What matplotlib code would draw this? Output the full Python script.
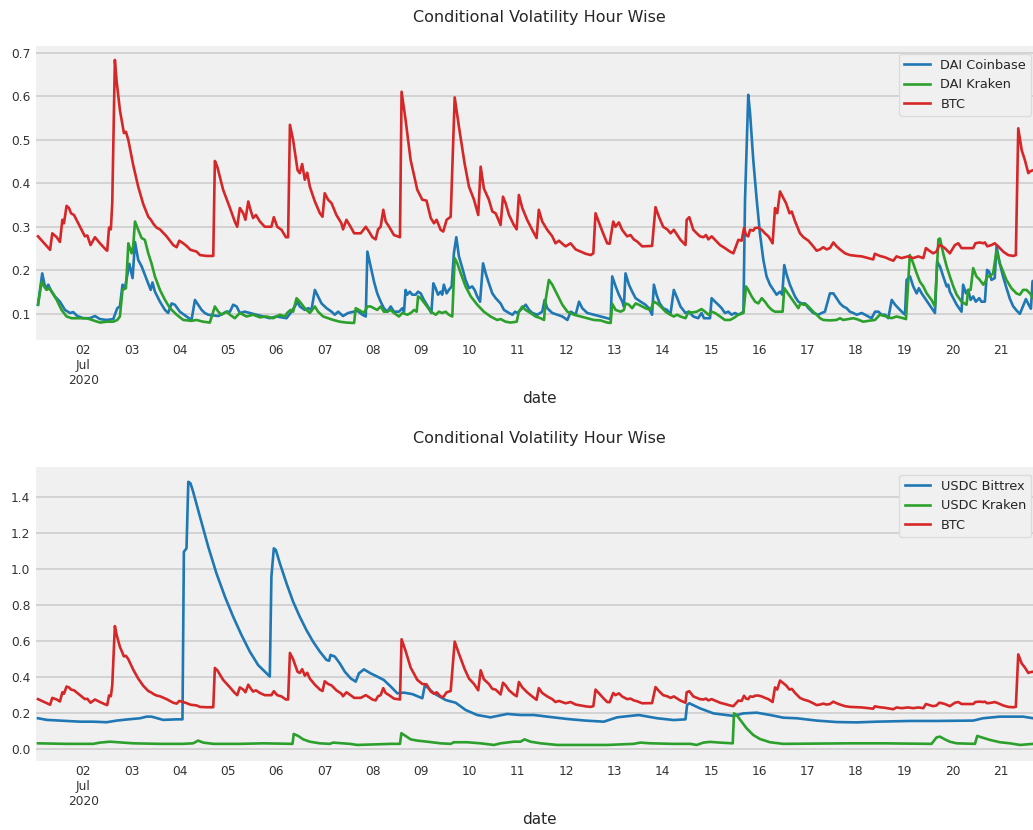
import pandas as pd
import matplotlib
matplotlib.use('Agg')
import matplotlib.pyplot as plt

# hourly conditional volatility, (hours since 2020-07-01 00:00, value)
btc_points = [
    (1.5, 0.278), (7.5, 0.247), (8.6, 0.285), (10.8, 0.276), (12.4, 0.265), (13.6, 0.316),
    (14.4, 0.308), (15.7, 0.348), (16.9, 0.343), (17.9, 0.331), (19.4, 0.327), (22.4, 0.300),
    (24.8, 0.278), (26.0, 0.280), (27.6, 0.258), (29.8, 0.276), (32.3, 0.262), (35.3, 0.247),
    (35.9, 0.245), (36.8, 0.298), (37.7, 0.294), (38.4, 0.354), (39.7, 0.683), (40.6, 0.633),
    (42.2, 0.568), (44.2, 0.515), (45.2, 0.518), (46.4, 0.499), (48.8, 0.442), (51.3, 0.392),
    (53.8, 0.352), (56.3, 0.323), (57.6, 0.316), (58.8, 0.307), (60.4, 0.298), (62.1, 0.294),
    (65.4, 0.278), (68.7, 0.258), (70.4, 0.253), (71.7, 0.268), (73.7, 0.262), (75.3, 0.256),
    (77.3, 0.247), (80.3, 0.243), (82.0, 0.235), (85.3, 0.233), (88.6, 0.233), (89.4, 0.451),
    (90.6, 0.438), (93.5, 0.385), (96.9, 0.343), (99.3, 0.312), (100.5, 0.300), (101.8, 0.343),
    (103.5, 0.331), (104.6, 0.316), (106.0, 0.358), (107.1, 0.339), (108.4, 0.320), (109.8, 0.327),
    (111.8, 0.312), (114.2, 0.300), (117.5, 0.300), (118.7, 0.322), (120.4, 0.300), (122.5, 0.293),
    (124.7, 0.276), (125.8, 0.276), (126.7, 0.534), (128.3, 0.499), (130.5, 0.430), (131.6, 0.423),
    (132.8, 0.444), (134.1, 0.408), (135.3, 0.424), (136.6, 0.392), (139.1, 0.358), (141.6, 0.331),
    (142.9, 0.323), (144.0, 0.377), (145.7, 0.362), (147.4, 0.354), (149.8, 0.327), (152.3, 0.308),
    (153.1, 0.294), (154.8, 0.316), (157.7, 0.293), (158.6, 0.285), (161.9, 0.285), (164.4, 0.300),
    (166.0, 0.289), (167.7, 0.276), (169.3, 0.271), (170.5, 0.294), (171.8, 0.300), (173.1, 0.339),
    (174.3, 0.312), (176.0, 0.300), (178.4, 0.281), (181.4, 0.276), (182.2, 0.610), (184.2, 0.545),
    (186.7, 0.453), (190.0, 0.385), (192.5, 0.362), (194.6, 0.360), (196.7, 0.320), (198.3, 0.308),
    (199.6, 0.316), (201.6, 0.293), (202.9, 0.289), (204.6, 0.316), (206.6, 0.323), (208.6, 0.597),
    (210.7, 0.530), (213.5, 0.446), (215.7, 0.392), (218.2, 0.362), (220.3, 0.327), (221.5, 0.438),
    (223.1, 0.388), (225.6, 0.362), (227.3, 0.335), (228.9, 0.331), (229.7, 0.323), (231.4, 0.304),
    (232.6, 0.369), (233.9, 0.354), (235.6, 0.327), (238.0, 0.304), (239.4, 0.294), (240.5, 0.373),
    (242.2, 0.343), (244.6, 0.316), (247.1, 0.293), (249.3, 0.274), (250.4, 0.339), (252.1, 0.312),
    (254.6, 0.293), (257.1, 0.278), (258.7, 0.262), (260.4, 0.268), (262.1, 0.261), (263.7, 0.255),
    (266.2, 0.262), (268.7, 0.248), (271.2, 0.243), (273.7, 0.238), (276.2, 0.235), (277.5, 0.239),
    (278.6, 0.331), (281.1, 0.300), (282.7, 0.281), (284.4, 0.262), (285.6, 0.261), (287.4, 0.312),
    (288.5, 0.300), (290.2, 0.310), (291.8, 0.293), (294.3, 0.278), (296.0, 0.281), (297.6, 0.271),
    (299.3, 0.266), (301.8, 0.255), (306.7, 0.256), (308.4, 0.345), (310.1, 0.323), (312.2, 0.300),
    (314.2, 0.294), (315.9, 0.285), (317.5, 0.293), (319.2, 0.281), (320.8, 0.270), (323.3, 0.258),
    (323.9, 0.316), (325.2, 0.322), (327.2, 0.293), (328.9, 0.285), (330.5, 0.278), (332.2, 0.276),
    (333.5, 0.281), (334.7, 0.271), (336.3, 0.278), (338.0, 0.270), (340.5, 0.258), (342.9, 0.251),
    (345.4, 0.243), (347.1, 0.239), (348.4, 0.255), (349.6, 0.270), (351.2, 0.268), (352.4, 0.297),
    (353.4, 0.281), (354.5, 0.278), (355.4, 0.293), (357.0, 0.291), (357.8, 0.297), (359.5, 0.298),
    (361.2, 0.293), (362.8, 0.285), (364.5, 0.278), (365.6, 0.270), (366.6, 0.262), (367.8, 0.343),
    (368.9, 0.331), (370.3, 0.381), (371.6, 0.369), (373.3, 0.354), (375.0, 0.331), (376.1, 0.335),
    (377.8, 0.312), (380.2, 0.285), (381.9, 0.276), (384.4, 0.268), (386.8, 0.255), (388.5, 0.245),
    (390.2, 0.248), (391.8, 0.253), (393.5, 0.248), (395.1, 0.251), (396.8, 0.264), (398.4, 0.255),
    (400.1, 0.248), (402.6, 0.239), (405.0, 0.235), (408.4, 0.233), (410.9, 0.232), (414.1, 0.228),
    (416.6, 0.225), (417.4, 0.238), (419.9, 0.233), (422.4, 0.230), (424.9, 0.225), (426.6, 0.222),
    (428.2, 0.232), (430.7, 0.228), (432.4, 0.230), (434.0, 0.232), (436.5, 0.228), (439.0, 0.232),
    (441.5, 0.228), (442.8, 0.251), (444.5, 0.245), (446.4, 0.239), (448.1, 0.243), (449.4, 0.258),
    (450.6, 0.256), (452.2, 0.251), (454.7, 0.239), (457.2, 0.258), (458.9, 0.262), (460.5, 0.251),
    (463.8, 0.251), (466.3, 0.251), (467.4, 0.262), (469.6, 0.264), (471.3, 0.262), (472.1, 0.264),
    (473.3, 0.255), (475.4, 0.258), (477.0, 0.262), (478.7, 0.255), (481.2, 0.243), (483.7, 0.235),
    (486.2, 0.233), (487.5, 0.235), (488.7, 0.526), (490.4, 0.476), (492.0, 0.453), (493.7, 0.423),
    (494.5, 0.427), (496.1, 0.430), (498.0, 0.430),
]

dai_coinbase_points = [
    (1.5, 0.121), (3.6, 0.193), (4.6, 0.170), (5.5, 0.157), (6.6, 0.167), (7.8, 0.155),
    (9.9, 0.140), (12.4, 0.128), (14.9, 0.109), (17.4, 0.102), (19.0, 0.104), (21.0, 0.095),
    (24.0, 0.090), (27.3, 0.090), (29.8, 0.095), (32.3, 0.088), (35.6, 0.086), (38.9, 0.088),
    (40.9, 0.113), (42.2, 0.117), (43.5, 0.167), (44.7, 0.159), (46.9, 0.215), (48.5, 0.182),
    (49.7, 0.265), (51.3, 0.224), (53.0, 0.209), (54.6, 0.190), (56.3, 0.170), (57.5, 0.155),
    (58.4, 0.172), (59.6, 0.151), (62.1, 0.128), (64.6, 0.109), (66.2, 0.102), (67.9, 0.124),
    (69.5, 0.121), (72.0, 0.105), (75.3, 0.094), (77.8, 0.086), (79.5, 0.132), (81.1, 0.121),
    (82.8, 0.109), (84.4, 0.102), (86.1, 0.098), (91.1, 0.095), (95.2, 0.105), (96.9, 0.105),
    (98.5, 0.121), (100.2, 0.117), (101.8, 0.102), (104.3, 0.105), (106.8, 0.102), (110.1, 0.098),
    (113.4, 0.094), (116.7, 0.090), (120.0, 0.094), (125.0, 0.090), (127.0, 0.102), (129.1, 0.117),
    (130.5, 0.128), (131.6, 0.117), (134.1, 0.109), (135.8, 0.113), (137.4, 0.109), (139.1, 0.155),
    (140.7, 0.140), (142.4, 0.124), (144.9, 0.113), (147.4, 0.105), (149.0, 0.098), (150.7, 0.105),
    (153.1, 0.095), (155.6, 0.102), (160.2, 0.107), (162.7, 0.098), (164.4, 0.094), (165.2, 0.243),
    (166.5, 0.216), (168.5, 0.174), (170.1, 0.147), (171.8, 0.128), (173.4, 0.113), (175.1, 0.105),
    (176.8, 0.117), (178.4, 0.105), (180.9, 0.105), (182.6, 0.113), (183.4, 0.105), (184.2, 0.155),
    (185.0, 0.144), (186.3, 0.151), (187.5, 0.144), (189.2, 0.144), (190.4, 0.151), (191.7, 0.147),
    (193.3, 0.132), (195.3, 0.117), (197.0, 0.102), (198.0, 0.170), (199.1, 0.159), (200.3, 0.144),
    (201.6, 0.151), (202.4, 0.144), (203.2, 0.167), (204.6, 0.147), (205.7, 0.155), (207.1, 0.163),
    (208.2, 0.239), (209.4, 0.276), (210.7, 0.232), (212.4, 0.205), (214.0, 0.178), (215.7, 0.159),
    (217.3, 0.163), (218.5, 0.155), (219.8, 0.140), (221.2, 0.128), (222.7, 0.216), (224.0, 0.193),
    (225.6, 0.170), (227.3, 0.147), (229.0, 0.136), (231.4, 0.124), (233.1, 0.109), (235.6, 0.102),
    (237.3, 0.098), (238.6, 0.105), (239.8, 0.102), (241.4, 0.109), (243.9, 0.121), (245.6, 0.109),
    (247.2, 0.102), (249.7, 0.098), (252.1, 0.105), (253.3, 0.132), (254.6, 0.113), (257.1, 0.102),
    (259.6, 0.098), (262.1, 0.094), (264.6, 0.086), (266.3, 0.105), (268.7, 0.098), (270.4, 0.128),
    (272.0, 0.113), (274.5, 0.102), (277.8, 0.098), (281.1, 0.094), (284.4, 0.090), (286.1, 0.088),
    (286.9, 0.186), (288.6, 0.163), (290.2, 0.144), (291.9, 0.128), (292.7, 0.117), (293.5, 0.193),
    (295.2, 0.167), (296.8, 0.151), (298.5, 0.136), (301.0, 0.128), (303.4, 0.121), (305.1, 0.113),
    (306.7, 0.098), (307.6, 0.167), (308.9, 0.144), (310.5, 0.124), (312.2, 0.113), (314.2, 0.109),
    (315.8, 0.098), (317.5, 0.155), (319.2, 0.136), (320.8, 0.117), (323.3, 0.102), (324.9, 0.105),
    (327.2, 0.094), (329.6, 0.090), (331.3, 0.102), (332.5, 0.090), (335.5, 0.090), (336.3, 0.136),
    (338.0, 0.128), (339.6, 0.121), (341.3, 0.113), (342.9, 0.102), (344.6, 0.105), (346.2, 0.098),
    (347.9, 0.102), (349.6, 0.098), (351.2, 0.102), (352.1, 0.105), (352.9, 0.362), (354.5, 0.603),
    (355.4, 0.561), (357.0, 0.453), (358.7, 0.362), (360.3, 0.285), (362.0, 0.224), (363.6, 0.186),
    (365.3, 0.167), (367.0, 0.155), (368.6, 0.144), (370.3, 0.151), (371.4, 0.144), (372.4, 0.212),
    (373.6, 0.190), (375.2, 0.167), (377.7, 0.140), (379.4, 0.128), (381.0, 0.124), (382.7, 0.124),
    (384.4, 0.113), (386.8, 0.102), (389.3, 0.098), (391.0, 0.102), (392.6, 0.105), (395.1, 0.147),
    (396.8, 0.147), (398.4, 0.136), (400.1, 0.124), (401.7, 0.117), (403.4, 0.113), (405.0, 0.105),
    (406.7, 0.102), (408.4, 0.098), (410.9, 0.102), (412.5, 0.098), (414.2, 0.094), (415.8, 0.090),
    (417.5, 0.105), (419.2, 0.105), (420.8, 0.098), (422.5, 0.098), (424.1, 0.090), (425.8, 0.132),
    (427.5, 0.121), (429.1, 0.113), (430.8, 0.105), (432.4, 0.098), (433.2, 0.178), (434.9, 0.186),
    (436.5, 0.163), (438.2, 0.147), (439.3, 0.159), (440.7, 0.147), (442.3, 0.136), (444.0, 0.124),
    (445.6, 0.113), (447.3, 0.102), (448.4, 0.220), (449.8, 0.209), (451.4, 0.186), (453.1, 0.163),
    (453.9, 0.167), (454.7, 0.151), (456.4, 0.136), (458.1, 0.121), (460.5, 0.105), (461.3, 0.167),
    (462.7, 0.147), (463.8, 0.155), (465.0, 0.132), (466.3, 0.140), (467.6, 0.128), (469.3, 0.136),
    (470.4, 0.128), (472.1, 0.128), (473.2, 0.201), (474.2, 0.197), (475.4, 0.178), (477.0, 0.182),
    (477.9, 0.255), (479.5, 0.216), (481.2, 0.185), (482.8, 0.160), (484.5, 0.135), (486.1, 0.118),
    (487.8, 0.108), (489.5, 0.100), (491.1, 0.118), (492.5, 0.134), (494.0, 0.120), (495.0, 0.112),
    (495.8, 0.175), (498.0, 0.180),
]

dai_kraken_points = [
    (1.5, 0.121), (3.3, 0.174), (4.5, 0.163), (5.8, 0.155), (7.1, 0.159), (8.8, 0.147),
    (10.8, 0.132), (13.2, 0.109), (15.7, 0.094), (18.2, 0.090), (22.4, 0.090), (25.7, 0.090),
    (29.0, 0.085), (32.3, 0.080), (35.6, 0.082), (38.9, 0.082), (40.9, 0.086), (42.2, 0.094),
    (43.5, 0.155), (45.2, 0.159), (46.4, 0.262), (48.0, 0.239), (48.8, 0.255), (49.7, 0.312),
    (51.3, 0.293), (53.0, 0.274), (54.6, 0.270), (56.3, 0.239), (57.9, 0.216), (59.6, 0.186),
    (62.1, 0.155), (64.6, 0.132), (67.1, 0.113), (70.4, 0.098), (73.7, 0.086), (77.8, 0.084),
    (80.3, 0.086), (83.6, 0.082), (86.9, 0.080), (89.4, 0.117), (91.1, 0.105), (92.7, 0.098),
    (95.2, 0.105), (96.9, 0.098), (99.3, 0.090), (101.8, 0.102), (105.1, 0.094), (108.4, 0.098),
    (111.8, 0.092), (115.1, 0.094), (118.4, 0.090), (121.7, 0.098), (124.2, 0.094), (125.3, 0.102),
    (127.0, 0.109), (128.3, 0.105), (130.0, 0.136), (131.6, 0.128), (134.1, 0.113), (136.6, 0.102),
    (139.1, 0.117), (140.7, 0.105), (143.2, 0.094), (145.7, 0.090), (148.2, 0.086), (151.5, 0.082),
    (154.8, 0.080), (158.6, 0.079), (159.4, 0.113), (161.0, 0.109), (163.5, 0.102), (165.2, 0.117),
    (166.8, 0.117), (168.5, 0.113), (170.1, 0.109), (171.8, 0.117), (173.4, 0.105), (175.1, 0.105),
    (176.8, 0.109), (178.4, 0.102), (180.9, 0.094), (182.6, 0.102), (185.1, 0.098), (186.8, 0.102),
    (188.4, 0.109), (189.7, 0.105), (190.4, 0.140), (191.7, 0.136), (194.2, 0.121), (196.7, 0.105),
    (199.2, 0.098), (200.8, 0.105), (202.4, 0.102), (204.1, 0.105), (205.7, 0.098), (207.4, 0.094),
    (208.6, 0.228), (209.9, 0.216), (211.6, 0.193), (214.0, 0.163), (216.6, 0.140), (219.8, 0.121),
    (223.1, 0.105), (226.4, 0.094), (229.7, 0.086), (231.4, 0.088), (233.9, 0.082), (236.4, 0.080),
    (239.4, 0.082), (240.5, 0.105), (242.2, 0.117), (243.8, 0.109), (246.3, 0.102), (248.8, 0.094),
    (251.3, 0.090), (253.0, 0.086), (253.8, 0.132), (255.4, 0.178), (257.1, 0.167), (259.6, 0.144),
    (262.1, 0.121), (264.6, 0.105), (267.9, 0.098), (271.2, 0.094), (274.5, 0.090), (277.8, 0.086),
    (281.1, 0.085), (284.4, 0.080), (286.1, 0.079), (286.9, 0.123), (288.6, 0.109), (291.1, 0.105),
    (292.7, 0.109), (293.5, 0.124), (295.2, 0.121), (296.8, 0.113), (298.5, 0.124), (300.1, 0.121),
    (301.8, 0.117), (303.4, 0.113), (305.9, 0.109), (307.6, 0.128), (309.2, 0.124), (310.9, 0.117),
    (313.4, 0.105), (315.8, 0.098), (317.5, 0.094), (319.2, 0.098), (320.8, 0.094), (323.3, 0.090),
    (324.9, 0.105), (326.4, 0.103), (328.9, 0.105), (331.3, 0.111), (333.0, 0.105), (334.7, 0.098),
    (336.3, 0.105), (338.0, 0.102), (340.5, 0.094), (342.9, 0.086), (345.4, 0.086), (347.1, 0.090),
    (349.6, 0.098), (352.1, 0.102), (353.4, 0.163), (354.5, 0.155), (356.2, 0.140), (357.9, 0.128),
    (359.5, 0.124), (361.2, 0.136), (362.8, 0.128), (364.5, 0.117), (366.2, 0.109), (367.8, 0.105),
    (371.6, 0.105), (372.4, 0.159), (373.6, 0.151), (375.2, 0.140), (377.7, 0.124), (379.4, 0.113),
    (380.5, 0.124), (381.9, 0.121), (383.5, 0.121), (385.2, 0.113), (386.8, 0.105), (388.5, 0.098),
    (390.2, 0.090), (391.8, 0.086), (395.1, 0.085), (398.4, 0.086), (400.1, 0.090), (401.7, 0.086),
    (404.2, 0.088), (406.7, 0.090), (408.4, 0.088), (411.7, 0.082), (414.2, 0.084), (417.5, 0.086),
    (419.9, 0.098), (423.2, 0.094), (425.7, 0.090), (428.2, 0.094), (431.5, 0.090), (432.9, 0.088),
    (434.8, 0.235), (436.5, 0.216), (438.2, 0.193), (439.8, 0.174), (441.5, 0.163), (443.2, 0.147),
    (445.6, 0.132), (447.3, 0.117), (449.0, 0.271), (449.8, 0.273), (451.4, 0.239), (453.1, 0.209),
    (454.7, 0.186), (456.4, 0.163), (458.1, 0.144), (460.5, 0.128), (463.0, 0.121), (463.8, 0.155),
    (465.0, 0.155), (466.3, 0.205), (467.9, 0.186), (469.6, 0.178), (471.3, 0.167), (472.4, 0.174),
    (473.2, 0.186), (474.5, 0.186), (476.2, 0.193), (477.9, 0.245), (479.5, 0.216), (481.2, 0.197),
    (482.8, 0.178), (485.3, 0.159), (487.8, 0.147), (489.5, 0.144), (491.1, 0.155), (492.8, 0.155),
    (494.5, 0.147), (496.1, 0.136), (498.0, 0.134),
]

usdc_bittrex_points = [
    (1.5, 0.172), (5.8, 0.163), (12.4, 0.159), (22.4, 0.153), (29.0, 0.153), (35.6, 0.150),
    (40.6, 0.159), (46.4, 0.166), (52.2, 0.172), (55.5, 0.181), (57.9, 0.181), (63.7, 0.163),
    (70.4, 0.166), (73.3, 0.166), (74.0, 1.095), (75.3, 1.114), (76.2, 1.483), (77.3, 1.474),
    (78.6, 1.428), (82.0, 1.289), (86.1, 1.123), (90.2, 0.975), (94.4, 0.846), (98.5, 0.735),
    (102.6, 0.634), (106.8, 0.541), (110.9, 0.467), (115.1, 0.421), (116.7, 0.403), (117.5, 0.957),
    (118.7, 1.114), (119.7, 1.105), (121.7, 1.031), (125.0, 0.920), (128.3, 0.818), (131.6, 0.735),
    (134.9, 0.661), (138.2, 0.597), (141.6, 0.541), (144.9, 0.495), (146.2, 0.491), (146.9, 0.523),
    (149.0, 0.514), (151.5, 0.476), (154.0, 0.430), (156.9, 0.393), (159.4, 0.375), (161.0, 0.421),
    (163.5, 0.443), (166.8, 0.421), (170.1, 0.403), (173.4, 0.384), (176.8, 0.348), (180.1, 0.310),
    (183.4, 0.314), (187.5, 0.306), (192.5, 0.283), (193.8, 0.356), (198.3, 0.310), (204.1, 0.273),
    (209.1, 0.258), (214.0, 0.218), (219.8, 0.190), (226.4, 0.177), (234.7, 0.196), (241.3, 0.190),
    (247.9, 0.190), (254.6, 0.181), (264.5, 0.168), (273.6, 0.159), (282.7, 0.153), (289.3, 0.177),
    (295.9, 0.185), (300.1, 0.190), (309.2, 0.172), (317.5, 0.162), (323.3, 0.166), (324.1, 0.246),
    (325.2, 0.255), (330.5, 0.227), (337.2, 0.199), (347.1, 0.185), (352.1, 0.199), (358.7, 0.203),
    (365.4, 0.190), (372.0, 0.175), (378.6, 0.172), (388.5, 0.159), (398.4, 0.151), (408.3, 0.149),
    (418.3, 0.153), (434.8, 0.157), (448.1, 0.157), (466.3, 0.159), (471.2, 0.172), (479.5, 0.181),
    (491.1, 0.181), (496.1, 0.172), (498.0, 0.172),
]

usdc_kraken_points = [
    (1.5, 0.033), (15.7, 0.030), (29.0, 0.030), (32.3, 0.037), (37.3, 0.042), (48.8, 0.033),
    (62.1, 0.030), (73.3, 0.030), (78.6, 0.033), (81.1, 0.048), (83.6, 0.037), (88.6, 0.030),
    (101.8, 0.030), (113.4, 0.033), (128.0, 0.030), (128.6, 0.085), (130.8, 0.074), (133.3, 0.055),
    (136.6, 0.042), (141.6, 0.033), (146.5, 0.030), (148.2, 0.037), (156.5, 0.030), (160.2, 0.024),
    (176.8, 0.030), (181.4, 0.030), (182.1, 0.089), (184.2, 0.074), (186.7, 0.055), (190.0, 0.048),
    (195.0, 0.042), (201.6, 0.033), (206.6, 0.030), (208.2, 0.039), (214.8, 0.039), (221.5, 0.033),
    (228.1, 0.024), (231.4, 0.033), (238.0, 0.042), (241.3, 0.042), (243.3, 0.055), (246.3, 0.042),
    (251.3, 0.033), (259.5, 0.024), (284.4, 0.024), (297.6, 0.030), (300.9, 0.037), (305.9, 0.033),
    (317.5, 0.030), (325.8, 0.030), (328.9, 0.024), (332.2, 0.037), (335.5, 0.041), (340.5, 0.037),
    (346.8, 0.033), (347.4, 0.199), (348.7, 0.190), (351.2, 0.153), (353.7, 0.116), (357.0, 0.079),
    (360.3, 0.057), (365.3, 0.039), (371.9, 0.030), (405.0, 0.033), (421.6, 0.033), (445.6, 0.030),
    (448.1, 0.066), (449.8, 0.070), (452.2, 0.055), (454.7, 0.042), (458.1, 0.033), (467.2, 0.030),
    (468.3, 0.074), (470.5, 0.066), (474.6, 0.052), (479.6, 0.039), (484.6, 0.033), (489.6, 0.024),
    (496.1, 0.030), (498.0, 0.030),
]

start = pd.Timestamp('2020-07-01')
day_ticks = pd.date_range('2020-07-02', '2020-07-21', freq='D')
day_labels = ['02\nJul\n2020'] + [d.strftime('%d') for d in day_ticks[1:]]


def to_series(points):
    hours, vals = zip(*points)
    idx = start + pd.to_timedelta(list(hours), unit='h')
    return pd.Series(vals, index=idx)


def style_axis(ax, ylim, yticks, ylabels):
    ax.set_facecolor('#f0f0f0')
    for s in ax.spines.values():
        s.set_visible(False)
    ax.grid(axis='y', color='#cbcbcb', linewidth=1.1)
    ax.grid(axis='x', visible=False)
    ax.set_axisbelow(True)
    ax.set_xlim(start + pd.Timedelta(hours=0.5), start + pd.Timedelta(hours=500.5))
    ax.set_ylim(*ylim)
    ax.set_xticks(day_ticks)
    ax.set_xticklabels(day_labels)
    ax.set_yticks(yticks)
    ax.set_yticklabels(ylabels)
    ax.tick_params(axis='both', length=0, labelsize=8.8, colors='#333333')
    ax.tick_params(axis='x', pad=3)
    ax.tick_params(axis='y', pad=4)
    ax.set_title('Conditional Volatility Hour Wise', fontsize=11.5, color='#262626', pad=17)
    ax.set_xlabel('date', fontsize=11, color='#262626', labelpad=3)
    leg = ax.legend(loc='upper right', bbox_to_anchor=(0.997, 1.0), fontsize=9.3,
                    frameon=True, fancybox=True, framealpha=1.0, borderaxespad=0.6)
    leg.get_frame().set_facecolor('#f0f0f0')
    leg.get_frame().set_edgecolor('#dcdcdc')
    for t in leg.get_texts():
        t.set_color('#262626')


btc = to_series(btc_points)

fig = plt.figure(figsize=(10.33, 8.3), dpi=100)
fig.patch.set_facecolor('white')

ax1 = fig.add_axes([36 / 1033, 1 - 340 / 830, 1006 / 1033, 294 / 830])
ax1.plot(to_series(dai_coinbase_points), color='#1f77b4', lw=1.9, label='DAI Coinbase')
ax1.plot(to_series(dai_kraken_points), color='#2ca02c', lw=1.9, label='DAI Kraken')
ax1.plot(btc, color='#d62728', lw=1.9, label='BTC')
style_axis(ax1, (0.04, 0.715), [0.1, 0.2, 0.3, 0.4, 0.5, 0.6, 0.7],
           ['0.1', '0.2', '0.3', '0.4', '0.5', '0.6', '0.7'])

ax2 = fig.add_axes([36 / 1033, 1 - 761 / 830, 1006 / 1033, 294 / 830])
ax2.plot(to_series(usdc_bittrex_points), color='#1f77b4', lw=1.9, label='USDC Bittrex')
ax2.plot(to_series(usdc_kraken_points), color='#2ca02c', lw=1.9, label='USDC Kraken')
ax2.plot(btc, color='#d62728', lw=1.9, label='BTC')
style_axis(ax2, (-0.065, 1.565), [0.0, 0.2, 0.4, 0.6, 0.8, 1.0, 1.2, 1.4],
           ['0.0', '0.2', '0.4', '0.6', '0.8', '1.0', '1.2', '1.4'])

fig.savefig('out.png', dpi=100)
